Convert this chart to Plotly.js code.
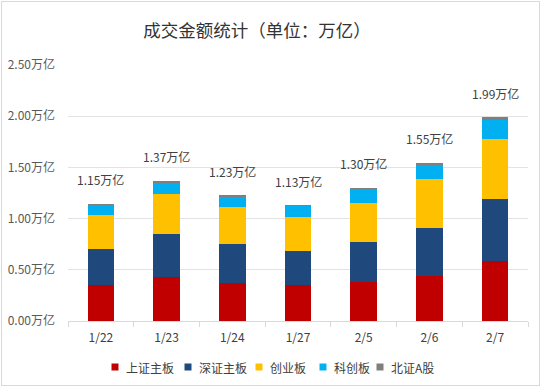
<!DOCTYPE html>
<html>
<head>
<meta charset="utf-8">
<script src="https://cdn.plot.ly/plotly-3.0.1.min.js"></script>
<style>
  html, body { margin: 0; padding: 0; background: #fff; }
  #wrap { position: relative; width: 542px; height: 388px; }
  #chart { width: 542px; height: 388px; }
  #frame { position: absolute; left: 1px; top: 1px; width: 539px; height: 385px;
           box-sizing: border-box; border: 1px solid #d9d9d9; pointer-events: none; }
</style>
</head>
<body>
<div id="wrap"><div id="chart"></div><div id="frame"></div></div>
<script>
// ---- data ----
const categories = ['1/22', '1/23', '1/24', '1/27', '2/5', '2/6', '2/7'];
const seriesNames = ['上证主板', '深证主板', '创业板', '科创板', '北证A股'];
const shMain   = [0.348, 0.429, 0.371, 0.348, 0.377, 0.435, 0.585];
const szMain   = [0.358, 0.423, 0.384, 0.339, 0.394, 0.474, 0.610];
const chiNext  = [0.329, 0.387, 0.361, 0.329, 0.377, 0.474, 0.587];
const starMkt  = [0.094, 0.108, 0.097, 0.103, 0.140, 0.145, 0.180];
const bjA      = [0.016, 0.020, 0.019, 0.010, 0.012, 0.019, 0.030];
const totals   = [1.15, 1.37, 1.23, 1.13, 1.30, 1.55, 1.99];
const yTickVals = [0, 0.5, 1.0, 1.5, 2.0, 2.5];
const yTickLabels = ['0.00万亿', '0.50万亿', '1.00万亿', '1.50万亿', '2.00万亿', '2.50万亿'];
const titleText = '成交金额统计（单位：万亿）';
const unit = '万亿';

// ---- styles ----
const colors = ['#c00000', '#1f497d', '#ffc000', '#00b0f0', '#7f7f7f'];
const FONT = '"Noto Sans CJK SC", "Microsoft YaHei", sans-serif';
const seriesValues = [shMain, szMain, chiNext, starMkt, bjA];

const traces = seriesValues.map((vals, i) => ({
  type: 'bar',
  name: seriesNames[i],
  x: categories,
  y: vals,
  marker: { color: colors[i], line: { width: 0 } },
  showlegend: false,
  hoverinfo: 'x+y+name'
}));

// total labels above bars
const annotations = categories.map((c, i) => ({
  x: c, y: totals[i], xref: 'x', yref: 'y',
  text: totals[i].toFixed(2) + unit,
  showarrow: false, yanchor: 'middle', yshift: 24,
  font: { family: FONT, size: 12, color: '#404040' }
}));

// custom legend (pixel layout -> paper coords)
const plotL = 68, plotR = 528, plotT = 65, plotB = 321;
const pw = plotR - plotL, ph = plotB - plotT;
const legendSquareX = [115, 188, 259, 323, 380];
const legendY = 367, sq = 7;
const shapes = [];
seriesNames.forEach((n, i) => {
  const cx = legendSquareX[i];
  shapes.push({
    type: 'rect', xref: 'paper', yref: 'paper',
    x0: (cx - sq / 2 - plotL) / pw, x1: (cx + sq / 2 - plotL) / pw,
    y0: (plotB - (legendY + sq / 2)) / ph, y1: (plotB - (legendY - sq / 2)) / ph,
    fillcolor: colors[i], line: { width: 0 }
  });
  annotations.push({
    xref: 'paper', yref: 'paper',
    x: (cx + 9 - plotL) / pw, y: (plotB - legendY) / ph,
    xanchor: 'left', yanchor: 'middle', showarrow: false,
    text: n, font: { family: FONT, size: 12, color: '#404040' }
  });
});

const layout = {
  width: 542, height: 388,
  margin: { l: plotL, r: 542 - plotR, t: plotT, b: 388 - plotB, pad: 0 },
  paper_bgcolor: '#ffffff', plot_bgcolor: '#ffffff',
  font: { family: FONT, size: 12, color: '#404040' },
  barmode: 'stack',
  bargap: 0.594,
  showlegend: false,
  title: {
    text: titleText, xref: 'container', yref: 'container',
    x: 257 / 542, xanchor: 'center', y: 1 - 31 / 388, yanchor: 'middle',
    font: { family: FONT, size: 17.5, color: '#333333' }
  },
  xaxis: {
    type: 'category', range: [-0.5, categories.length - 0.5],
    showline: true, linecolor: '#d9d9d9', linewidth: 1,
    ticks: 'outside', tickson: 'boundaries', ticklen: 5, tickcolor: '#d9d9d9', tickwidth: 1,
    showgrid: false, zeroline: false,
    ticklabelstandoff: 6,
    tickfont: { family: FONT, size: 12, color: '#404040' }
  },
  yaxis: {
    range: [0, 2.5], tickmode: 'array', tickvals: yTickVals, ticktext: yTickLabels,
    showgrid: true, gridcolor: '#e3e3e3', gridwidth: 1,
    zeroline: false, showline: false, ticks: '',
    ticklabelstandoff: 12,
    tickfont: { family: FONT, size: 12, color: '#595959' }
  },
  annotations: annotations,
  shapes: shapes
};

Plotly.newPlot('chart', traces, layout, { displayModeBar: false, staticPlot: true });
</script>
</body>
</html>
